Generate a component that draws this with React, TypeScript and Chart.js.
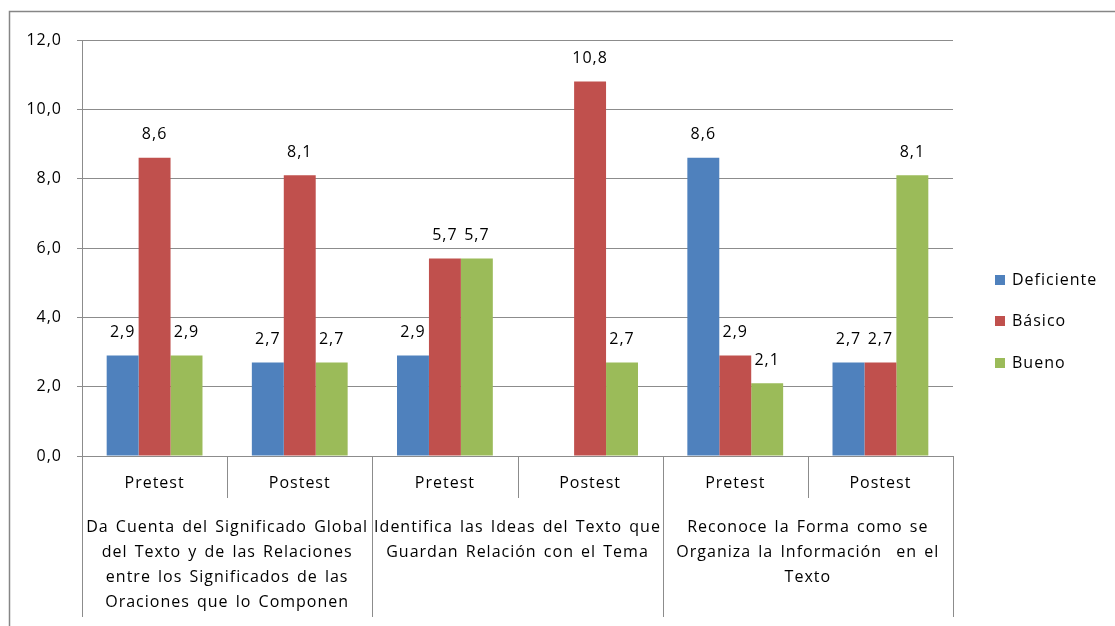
import React, { useEffect, useRef } from "react";
import { Chart, registerables } from "chart.js";

Chart.register(...registerables);

const phases = ["Pretest", "Postest", "Pretest", "Postest", "Pretest", "Postest"];
const groupLabels = [
  [
    "Da Cuenta del Significado Global",
    "del Texto y de las Relaciones",
    "entre los Significados de las",
    "Oraciones que lo Componen",
  ],
  ["Identifica las Ideas del Texto que", "Guardan Relación con el Tema"],
  ["Reconoce la Forma como se", "Organiza la Información  en el", "Texto"],
];
const seriesNames = ["Deficiente", "Básico", "Bueno"];
const deficiente = [2.9, 2.7, 2.9, null, 8.6, 2.7];
const basico = [8.6, 8.1, 5.7, 10.8, 2.9, 2.7];
const bueno = [2.9, 2.7, 5.7, 2.7, 2.1, 8.1];
const colors = ["#4F81BD", "#C0504D", "#9BBB59"];
const yMin = 0;
const yMax = 12;
const yStep = 2;

const FONT = "'Open Sans', sans-serif";
const fmt = (v: number) => v.toFixed(1).replace(".", ",");

const customPlugin = {
  id: "custom",
  beforeDraw(chart: any) {
    chart.ctx.letterSpacing = "1px";
  },
  afterDraw(chart: any) {
    const { ctx, chartArea, scales } = chart;
    const x = scales.x;
    ctx.save();
    ctx.letterSpacing = "1px";
    // outer border
    ctx.strokeStyle = "#868686";
    ctx.lineWidth = 1.5;
    ctx.strokeRect(9.5, 11.5, 1300, 800);

    // category dividers
    const n = phases.length;
    const w = (x.right - x.left) / n;
    const bottom = chartArea.bottom;
    ctx.strokeStyle = "#8c8c8c";
    ctx.lineWidth = 1;
    for (let i = 0; i <= n; i++) {
      const px = Math.round(x.left + i * w) + 0.5;
      const isLong = i % 2 === 0;
      ctx.beginPath();
      ctx.moveTo(px, bottom);
      ctx.lineTo(px, bottom + (isLong ? 161 : 42));
      ctx.stroke();
    }

    ctx.fillStyle = "#000";
    ctx.font = `16px ${FONT}`;
    ctx.textAlign = "center";
    ctx.textBaseline = "middle";
    phases.forEach((p, i) => {
      ctx.fillText(p, x.getPixelForValue(i), bottom + 27);
    });
    ctx.wordSpacing = "2px";
    groupLabels.forEach((lines, g) => {
      const cx = x.left + (2 * g + 1) * w;
      lines.forEach((l, k) => ctx.fillText(l, cx, bottom + 71 + k * 25));
    });
    ctx.wordSpacing = "0px";

    // data labels
    chart.data.datasets.forEach((ds: any, di: number) => {
      const meta = chart.getDatasetMeta(di);
      meta.data.forEach((el: any, i: number) => {
        const v = ds.data[i];
        if (v == null) return;
        ctx.fillText(fmt(v), el.x, el.y - 23);
      });
    });

    // legend
    const legendY = [280, 321, 363];
    ctx.textAlign = "left";
    seriesNames.forEach((name, i) => {
      ctx.fillStyle = colors[i];
      ctx.fillRect(995, legendY[i] - 5, 10, 10);
      ctx.fillStyle = "#000";
      ctx.fillText(name, 1012, legendY[i]);
    });
    ctx.restore();
  },
};

export default function App() {
  const ref = useRef<HTMLCanvasElement>(null);
  useEffect(() => {
    if (!ref.current) return;
    const chart = new Chart(ref.current, {
      type: "bar",
      data: {
        labels: phases,
        datasets: [deficiente, basico, bueno].map((d, i) => ({
          label: seriesNames[i],
          data: d as any,
          backgroundColor: colors[i],
          borderWidth: 0,
          categoryPercentage: 0.66,
          barPercentage: 1,
        })),
      },
      options: {
        responsive: false,
        animation: false,
        layout: { padding: { left: 0, right: 162, top: 40, bottom: 170 } },
        plugins: {
          legend: { display: false },
          tooltip: { enabled: false },
        },
        scales: {
          x: { display: false },
          y: {
            min: yMin,
            max: yMax,
            afterFit(scale: any) {
              scale.width = 82;
            },
            ticks: {
              stepSize: yStep,
              padding: 15,
              color: "#000",
              font: { family: FONT, size: 16 },
              callback: (v: any) => fmt(Number(v)),
            },
            grid: { color: "#8c8c8c", lineWidth: 1, tickLength: 5 },
            border: { color: "#8c8c8c", width: 1 },
          },
        },
      },
      plugins: [customPlugin],
    });
    return () => chart.destroy();
  }, []);
  return (
    <div style={{ position: "absolute", left: 0, top: 0, width: 1115, height: 626, background: "#fff" }}>
      <canvas ref={ref} width={1115} height={626} style={{ display: "block" }} />
    </div>
  );
}
